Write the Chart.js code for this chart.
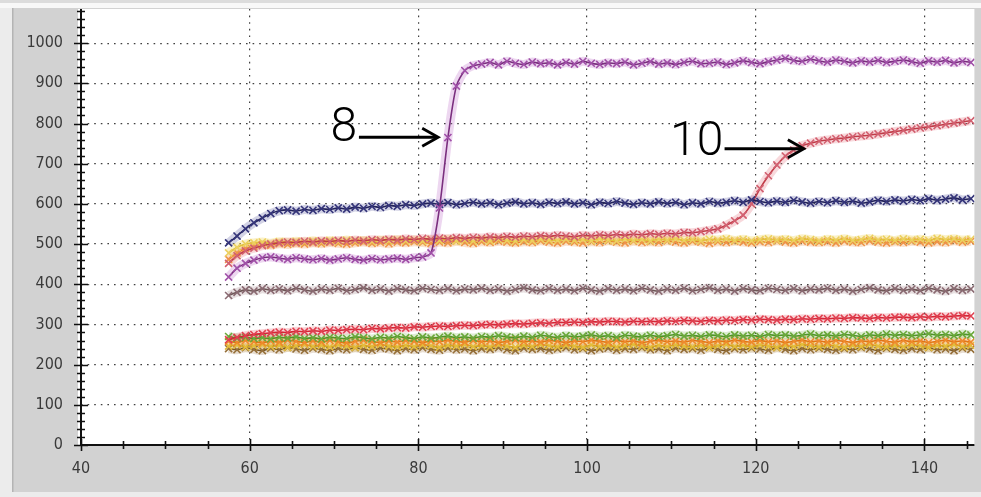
<!DOCTYPE html>
<html>
<head>
<meta charset="utf-8">
<script src="https://cdn.jsdelivr.net/npm/chart.js@4"></script>
<style>
html,body{margin:0;padding:0;background:#ececec;}
#wrap{width:981px;height:497px;}
</style>
</head>
<body>
<div id="wrap"><canvas id="c" width="981" height="497"></canvas></div>
<script>
// ---- DATA ----
const xs = [57.5,58.5,59.5,60.5,61.5,62.5,63.5,64.5,65.5,66.5,
67.5,68.5,69.5,70.5,71.5,72.5,73.5,74.5,75.5,76.5,
77.5,78.5,79.5,80.5,81.5,82.5,83.5,84.5,85.5,86.5,
87.5,88.5,89.5,90.5,91.5,92.5,93.5,94.5,95.5,96.5,
97.5,98.5,99.5,100.5,101.5,102.5,103.5,104.5,105.5,106.5,
107.5,108.5,109.5,110.5,111.5,112.5,113.5,114.5,115.5,116.5,
117.5,118.5,119.5,120.5,121.5,122.5,123.5,124.5,125.5,126.5,
127.5,128.5,129.5,130.5,131.5,132.5,133.5,134.5,135.5,136.5,
137.5,138.5,139.5,140.5,141.5,142.5,143.5,144.5,145.5];

const sample8 = [418,440,452,460,466,468,465,462,466,463,
461,464,460,463,466,462,460,464,461,463,
465,462,466,468,478,590,765,893,932,944,
948,952,946,955,950,947,953,949,951,946,
952,948,955,950,947,951,949,953,946,950,
954,948,951,947,952,955,949,950,953,947,
951,956,952,949,954,958,962,957,955,960,
956,953,958,955,951,956,953,957,952,955,
958,954,950,956,953,957,951,955,952];

const navy = [503,520,538,553,565,576,583,585,582,586,
584,588,586,590,587,592,589,594,591,596,
594,598,596,600,602,599,603,598,601,604,
600,603,598,602,605,600,603,599,604,601,
605,600,603,598,604,601,606,602,599,603,
600,605,601,604,598,603,600,606,602,604,
608,604,610,606,603,607,604,609,605,602,
606,603,608,604,607,602,605,609,606,610,
607,611,608,613,609,612,615,610,613];

const sample10 = [452,471,483,490,496,500,503,505,504,507,
505,508,506,509,507,510,508,511,509,512,
510,513,511,514,512,515,513,516,514,517,
515,518,516,519,517,520,518,521,519,522,
520,518,522,520,523,521,524,522,525,523,
526,524,527,525,529,528,531,534,538,547,
558,572,600,638,670,697,719,734,745,751,
756,759,762,764,767,769,771,774,777,780,
783,786,789,792,795,798,801,804,807];

const yellow = [478,492,500,503,505,502,506,504,507,505,
508,505,509,506,510,507,509,506,510,508,
511,508,510,507,511,509,512,508,510,507,
511,508,512,509,507,511,508,512,510,509,
512,509,511,508,513,510,508,512,509,511,
508,512,510,513,509,511,508,512,510,513,
509,512,508,511,513,510,512,509,513,511,
508,512,510,513,509,511,514,510,512,509,
513,510,512,509,514,511,513,510,512];

const orangeMid = [462,478,489,495,499,497,501,499,502,500,
503,501,504,502,500,503,505,502,504,501,
505,503,506,504,502,505,503,507,504,502,
506,504,507,505,503,506,504,508,505,503,
507,505,503,506,504,508,505,503,507,504,
506,504,508,505,503,507,505,502,506,504,
507,505,503,506,504,508,505,503,507,505,
504,506,503,507,505,504,508,505,503,506,
504,507,505,503,506,504,508,505,507];

const mauve = [372,380,386,383,389,385,388,384,390,386,
383,388,385,390,384,387,391,385,388,383,
389,386,384,390,387,385,389,384,388,386,
390,385,388,383,387,391,386,384,389,385,
388,384,390,386,383,389,385,388,384,390,
386,383,388,385,390,384,387,391,385,388,
383,389,386,384,390,387,385,389,384,388,
386,390,385,388,383,387,391,386,384,389,
385,388,384,390,386,383,389,385,388];

const redLow = [262,268,272,275,277,279,281,280,283,282,
284,283,286,285,287,288,287,290,289,291,
292,291,294,293,295,296,295,297,298,297,
299,300,299,301,302,301,303,304,303,305,
305,306,305,307,306,308,307,306,308,307,
308,307,309,308,310,309,308,310,309,311,
310,312,311,313,312,311,313,312,314,313,
315,314,316,315,317,316,315,317,316,318,
318,317,319,318,320,319,321,322,321];

const green = [270,266,268,265,267,264,268,266,269,265,
267,264,268,266,265,269,267,264,268,266,
270,267,265,269,266,268,271,267,269,266,
270,268,272,269,267,271,268,273,270,268,
272,269,271,274,270,272,268,273,271,269,
273,270,272,275,271,273,270,274,272,270,
274,271,273,270,275,272,274,271,273,276,
272,274,271,275,273,270,274,272,276,273,
275,272,274,277,273,275,272,276,274];

const orangeLow = [258,255,260,257,254,259,256,261,258,255,
259,256,260,257,254,258,261,257,255,259,
256,260,258,255,259,257,261,258,256,260,
257,259,255,258,261,257,259,256,260,258,
255,259,257,261,258,256,260,257,259,255,
258,261,257,259,256,260,258,255,259,257,
261,258,256,260,257,259,255,258,261,257,
259,256,260,258,255,259,257,261,258,256,
260,257,259,255,258,261,257,259,256];

const gold = [246,249,244,247,250,245,248,243,247,250,
245,248,244,249,246,243,248,245,250,246,
244,248,245,249,247,243,248,246,250,245,
247,244,249,246,243,248,245,250,247,244,
248,246,243,249,245,248,244,247,250,246,
243,248,245,249,246,244,248,243,247,250,
245,248,244,249,246,243,248,245,250,247,
244,249,246,243,248,245,250,246,244,248,
245,249,247,243,248,246,250,245,248];

const olive = [240,237,242,238,235,241,237,243,239,236,
241,238,235,240,237,242,238,236,241,239,
235,240,237,242,238,236,241,237,239,235,
240,238,242,237,235,241,238,240,236,239,
242,237,240,235,239,241,236,240,238,242,
237,239,235,241,238,240,236,242,238,235,
240,237,241,239,236,242,238,235,240,237,
241,238,236,240,237,242,239,235,241,238,
236,240,238,242,237,239,235,241,238];

const yTickLabels = [0,100,200,300,400,500,600,700,800,900,1000];
const xTickLabels = [40,60,80,100,120,140];

const annotTexts = ['8','10'];
const annotTextAt = [[72.75,757],[116.15,721]];
const annotArrowFrom = [[72.95,766],[116.3,737]];
const annotArrowTo = [[82.35,766],[125.7,737]];

// ---- STYLE ----
const seriesList = [
  {data: sample8, line:'#7a2f7e', pt:'#a050a8', halo:'rgba(190,110,200,0.28)'},
  {data: navy, line:'#22225a', pt:'#35357a', halo:'rgba(80,80,150,0.25)'},
  {data: sample10, line:'#c03c48', pt:'#d26070', halo:'rgba(230,120,130,0.28)'},
  {data: mauve, line:'#6e5656', pt:'#8a6a72', halo:'rgba(170,140,145,0.28)'},
  {data: yellow, line:'#e2c23a', pt:'#ecd060', halo:'rgba(240,215,100,0.35)'},
  {data: orangeMid, line:'#e57c30', pt:'#ee9448', halo:'rgba(240,160,90,0.3)'},
  {data: redLow, line:'#d42636', pt:'#e04050', halo:'rgba(235,100,110,0.28)'},
  {data: green, line:'#4f9428', pt:'#6aa83a', halo:'rgba(120,180,80,0.25)'},
  {data: orangeLow, line:'#e27416', pt:'#ee8a2c', halo:'rgba(240,150,60,0.3)'},
  {data: gold, line:'#d6a81e', pt:'#e4bc3c', halo:'rgba(230,190,70,0.3)'},
  {data: olive, line:'#7a5826', pt:'#96703a', halo:'rgba(160,120,70,0.25)'}
];

const mainSets = seriesList.map(s => ({
  data: xs.map((x,i) => ({x: x, y: s.data[i]})),
  borderColor: s.line,
  backgroundColor: s.pt,
  borderWidth: 1.6,
  pointStyle: 'crossRot',
  pointRadius: 5,
  pointBorderColor: s.pt,
  pointBorderWidth: 1.6,
  tension: 0.25,
  showLine: true,
  order: 1
}));
const haloSets = seriesList.map(s => ({
  data: xs.map((x,i) => ({x: x, y: s.data[i]})),
  borderColor: s.halo,
  borderWidth: 9,
  pointRadius: 0,
  tension: 0.25,
  showLine: true,
  order: 2
}));
const datasets = mainSets.concat(haloSets);

const labelFont = {family: "'Liberation Sans Narrow','Arial Narrow','DejaVu Sans Condensed',sans-serif", size: 16};

const frame = {
  id: 'frame',
  beforeDraw(chart) {
    const c = chart.ctx, a = chart.chartArea;
    c.save();
    c.fillStyle = '#ececec'; c.fillRect(0,0,981,497);
    c.fillStyle = '#dcdcdc'; c.fillRect(0,0,981,3);
    c.fillStyle = '#f8f8f8'; c.fillRect(0,3,981,5);
    c.fillStyle = '#d2d2d2'; c.fillRect(13,8,968,484);
    c.fillStyle = '#b4b4b4'; c.fillRect(12,8,1.5,484);
    c.fillStyle = '#ffffff'; c.fillRect(a.left-3, a.top, a.right-a.left+3, a.bottom-a.top);
    c.restore();
  },
  afterDatasetsDraw(chart) {
    const c = chart.ctx, a = chart.chartArea;
    const xS = chart.scales.x, yS = chart.scales.y;
    c.save();
    c.strokeStyle = '#111';
    c.lineWidth = 2;
    c.beginPath();
    c.moveTo(a.left, a.top); c.lineTo(a.left, a.bottom + 1);
    c.moveTo(a.left - 1, a.bottom); c.lineTo(a.right, a.bottom);
    c.stroke();
    c.lineWidth = 1.6;
    c.beginPath();
    for (let v = 0; v <= 1080; v += 20) {
      const py = Math.round(yS.getPixelForValue(v)) + 0.5;
      const L = (v % 100 === 0) ? 7 : 4;
      c.moveTo(a.left - L, py); c.lineTo(a.left + L, py);
    }
    for (let v = 40; v <= 145; v += 5) {
      const px = Math.round(xS.getPixelForValue(v)) + 0.5;
      const L = (v % 20 === 0) ? 6 : 4;
      c.moveTo(px, a.bottom - L); c.lineTo(px, a.bottom + L);
    }
    c.stroke();
    c.restore();
  },
  afterDraw(chart) {
    const c = chart.ctx;
    const xS = chart.scales.x, yS = chart.scales.y;
    c.save();
    c.fillStyle = '#000';
    c.strokeStyle = '#000';
    c.font = "300 48px Roboto, Lato, 'Liberation Sans', sans-serif";
    c.textAlign = 'right';
    c.textBaseline = 'alphabetic';
    annotTexts.forEach((t, i) => {
      c.fillText(t, xS.getPixelForValue(annotTextAt[i][0]), yS.getPixelForValue(annotTextAt[i][1]));
      const x1 = xS.getPixelForValue(annotArrowFrom[i][0]);
      const y1 = yS.getPixelForValue(annotArrowFrom[i][1]);
      const x2 = xS.getPixelForValue(annotArrowTo[i][0]);
      const y2 = yS.getPixelForValue(annotArrowTo[i][1]);
      c.lineWidth = 3;
      c.lineCap = 'butt';
      c.beginPath(); c.moveTo(x1, y1); c.lineTo(x2 - 2, y2); c.stroke();
      c.lineWidth = 2.8;
      c.lineJoin = 'miter';
      c.beginPath();
      c.moveTo(x2 - 16, y2 - 9); c.lineTo(x2, y2); c.lineTo(x2 - 16, y2 + 9);
      c.stroke();
    });
    c.restore();
  }
};

function zeroPad(s) { s.paddingTop = 0; s.paddingBottom = 0; s.paddingLeft = 0; s.paddingRight = 0; }

new Chart(document.getElementById('c'), {
  type: 'line',
  data: {datasets},
  plugins: [frame],
  options: {
    responsive: false,
    animation: false,
    devicePixelRatio: 1,
    layout: {padding: {top: 9, right: 0, bottom: 0, left: 0}},
    plugins: {legend: {display: false}, tooltip: {enabled: false}},
    scales: {
      x: {
        type: 'linear', min: 40, max: 145.92,
        afterFit: s => { s.height = 52; zeroPad(s); },
        afterBuildTicks: s => { s.ticks = xTickLabels.map(v => ({value: v})); },
        ticks: {font: labelFont, color: '#3a3a3a', padding: 14, maxRotation: 0, autoSkip: false, includeBounds: false, callback: v => String(v)},
        grid: {color: 'rgba(30,30,30,0.85)', lineWidth: 1.2, drawTicks: false},
        border: {display: false, dash: [1.6, 5]}
      },
      y: {
        type: 'linear', min: 0, max: 1085,
        afterFit: s => { s.width = 81; zeroPad(s); },
        afterBuildTicks: s => { s.ticks = yTickLabels.map(v => ({value: v})); },
        ticks: {font: labelFont, color: '#3a3a3a', padding: 18, autoSkip: false, includeBounds: false, callback: v => String(v)},
        grid: {color: 'rgba(30,30,30,0.85)', lineWidth: 1.2, drawTicks: false},
        border: {display: false, dash: [1.6, 5]}
      }
    }
  }
});
</script>
</body>
</html>
